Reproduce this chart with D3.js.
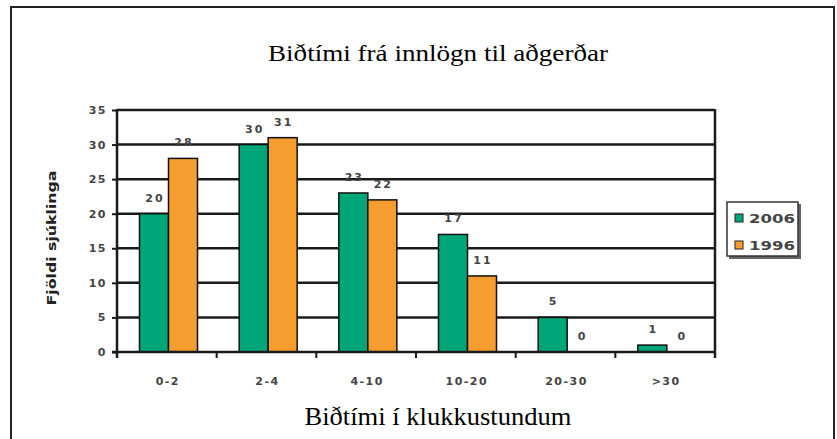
<!DOCTYPE html>
<html>
<head>
<meta charset="utf-8">
<script src="https://cdn.jsdelivr.net/npm/d3@7"></script>
<style>
  body { margin: 0; background: #fff; }
  svg { display: block; }
</style>
</head>
<body>
<div id="chart"></div>
<script>
// data
const categories = ["0-2", "2-4", "4-10", "10-20", "20-30", ">30"];
const series = ["2006", "1996"];
const values2006 = [20, 30, 23, 17, 5, 1];
const values1996 = [28, 31, 22, 11, 0, 0];
const yTicks = [0, 5, 10, 15, 20, 25, 30, 35];

const colors = { "2006": "#00a678", "1996": "#f59d2f" };
const tickFont = "'DejaVu Sans', Verdana, sans-serif";
const serifFont = "'Liberation Serif', 'DejaVu Serif', serif";

const W = 837, H = 439;
const plot = { left: 117, right: 715, top: 110, bottom: 352 };

const svg = d3.select("#chart").append("svg")
    .attr("width", W)
    .attr("height", H);

// outer frame (open at the bottom)
svg.append("path")
    .attr("d", "M11,440 V7 H834 V440")
    .attr("fill", "none")
    .attr("stroke", "#222")
    .attr("stroke-width", 2);

// title
svg.append("text")
    .attr("x", 438)
    .attr("y", 61)
    .attr("text-anchor", "middle")
    .attr("textLength", 340)
    .attr("lengthAdjust", "spacingAndGlyphs")
    .style("font-family", serifFont)
    .style("font-size", "23px")
    .text("Biðtími frá innlögn til aðgerðar");

const x = d3.scaleBand()
    .domain(categories)
    .range([plot.left, plot.right]);

const xs = d3.scaleBand()
    .domain(series)
    .range([22.5, 80.5]);

const y = d3.scaleLinear()
    .domain([0, 35])
    .range([plot.bottom, plot.top]);

// gridlines
const g = svg.append("g");
g.selectAll(".grid")
    .data(yTicks.filter(d => d > 0))
    .enter().append("line")
    .attr("class", "grid")
    .attr("x1", plot.left)
    .attr("x2", plot.right)
    .attr("y1", d => y(d))
    .attr("y2", d => y(d))
    .attr("stroke", "#1a1a1a")
    .attr("stroke-width", 2.5);

// right edge of plot
g.append("line")
    .attr("x1", plot.right).attr("x2", plot.right)
    .attr("y1", plot.top - 1).attr("y2", plot.bottom + 6)
    .attr("stroke", "#1a1a1a")
    .attr("stroke-width", 2.5);

// bars
const rows = categories.map((c, i) => ({
    cat: c,
    vals: [
        { s: "2006", v: values2006[i] },
        { s: "1996", v: values1996[i] }
    ]
}));

const groups = g.selectAll(".grp")
    .data(rows)
    .enter().append("g")
    .attr("class", "grp")
    .attr("transform", d => "translate(" + x(d.cat) + ",0)");

groups.selectAll("rect")
    .data(d => d.vals.filter(e => e.v > 0))
    .enter().append("rect")
    .attr("x", d => xs(d.s))
    .attr("width", xs.bandwidth())
    .attr("y", d => y(d.v))
    .attr("height", d => y(0) - y(d.v))
    .attr("fill", d => colors[d.s])
    .attr("stroke", "#111")
    .attr("stroke-width", 1.5);

groups.selectAll(".lbl")
    .data(d => d.vals)
    .enter().append("text")
    .attr("class", "lbl")
    .attr("x", d => xs(d.s) + xs.bandwidth() / 2 + 1)
    .attr("y", d => y(d.v) - 12)
    .attr("text-anchor", "middle")
    .style("font-family", tickFont)
    .style("font-size", "11px")
    .style("font-weight", "bold")
    .style("letter-spacing", "2px")
    .attr("fill", "#444")
    .text(d => d.v);

// y axis
const yAxis = svg.append("g")
    .attr("transform", "translate(" + plot.left + ",0)")
    .call(d3.axisLeft(y).tickValues(yTicks).tickSize(5).tickPadding(5));
yAxis.select(".domain")
    .attr("d", "M0," + (plot.top - 1) + "V" + (plot.bottom + 6))
    .attr("stroke", "#1a1a1a")
    .attr("stroke-width", 2.5);

// x axis
const xAxis = svg.append("g")
    .attr("transform", "translate(0," + plot.bottom + ")")
    .call(d3.axisBottom(x).tickSize(0).tickPadding(25));
xAxis.select(".domain")
    .attr("d", "M" + (plot.left - 5) + ",0H" + plot.right)
    .attr("stroke", "#1a1a1a")
    .attr("stroke-width", 2.5);

// category dividers under the axis
xAxis.selectAll(".div")
    .data(categories.slice(1))
    .enter().append("line")
    .attr("class", "div")
    .attr("x1", d => x(d)).attr("x2", d => x(d))
    .attr("y1", 0).attr("y2", 6)
    .attr("stroke", "#1a1a1a")
    .attr("stroke-width", 2);

[yAxis, xAxis].forEach(a => {
    a.selectAll(".tick line").attr("stroke", "#1a1a1a").attr("stroke-width", 2);
    a.selectAll(".tick text")
        .style("font-family", tickFont)
        .style("font-size", "11px")
        .style("font-weight", "bold")
        .style("letter-spacing", "1.5px")
        .attr("fill", "#444");
});
xAxis.selectAll(".tick text").attr("dx", "1px");

// axis titles
svg.append("text")
    .attr("transform", "translate(56,238) rotate(-90)")
    .attr("text-anchor", "middle")
    .attr("textLength", 135)
    .attr("lengthAdjust", "spacingAndGlyphs")
    .style("font-family", tickFont)
    .style("font-size", "12px")
    .style("font-weight", "bold")
    .attr("fill", "#222")
    .text("Fjöldi sjúklinga");

svg.append("text")
    .attr("x", 438)
    .attr("y", 425)
    .attr("text-anchor", "middle")
    .attr("textLength", 267)
    .attr("lengthAdjust", "spacingAndGlyphs")
    .style("font-family", serifFont)
    .style("font-size", "25px")
    .text("Biðtími í klukkustundum");

// legend
const lg = svg.append("g").attr("transform", "translate(727,202)");
lg.append("rect")
    .attr("x", 2).attr("y", 2)
    .attr("width", 72).attr("height", 55)
    .attr("fill", "#666");
lg.append("rect")
    .attr("width", 71).attr("height", 54)
    .attr("fill", "#fff")
    .attr("stroke", "#333")
    .attr("stroke-width", 1.5);
const li = lg.selectAll(".li")
    .data(series)
    .enter().append("g")
    .attr("class", "li")
    .attr("transform", (d, i) => "translate(8," + (12 + i * 27) + ")");
li.append("rect")
    .attr("width", 8).attr("height", 8)
    .attr("fill", d => colors[d])
    .attr("stroke", "#222")
    .attr("stroke-width", 1);
li.append("text")
    .attr("x", 14)
    .attr("y", 9)
    .attr("textLength", 46)
    .attr("lengthAdjust", "spacingAndGlyphs")
    .style("font-family", tickFont)
    .style("font-size", "12px")
    .style("font-weight", "bold")
    .attr("fill", "#444")
    .text(d => d);
</script>
</body>
</html>
